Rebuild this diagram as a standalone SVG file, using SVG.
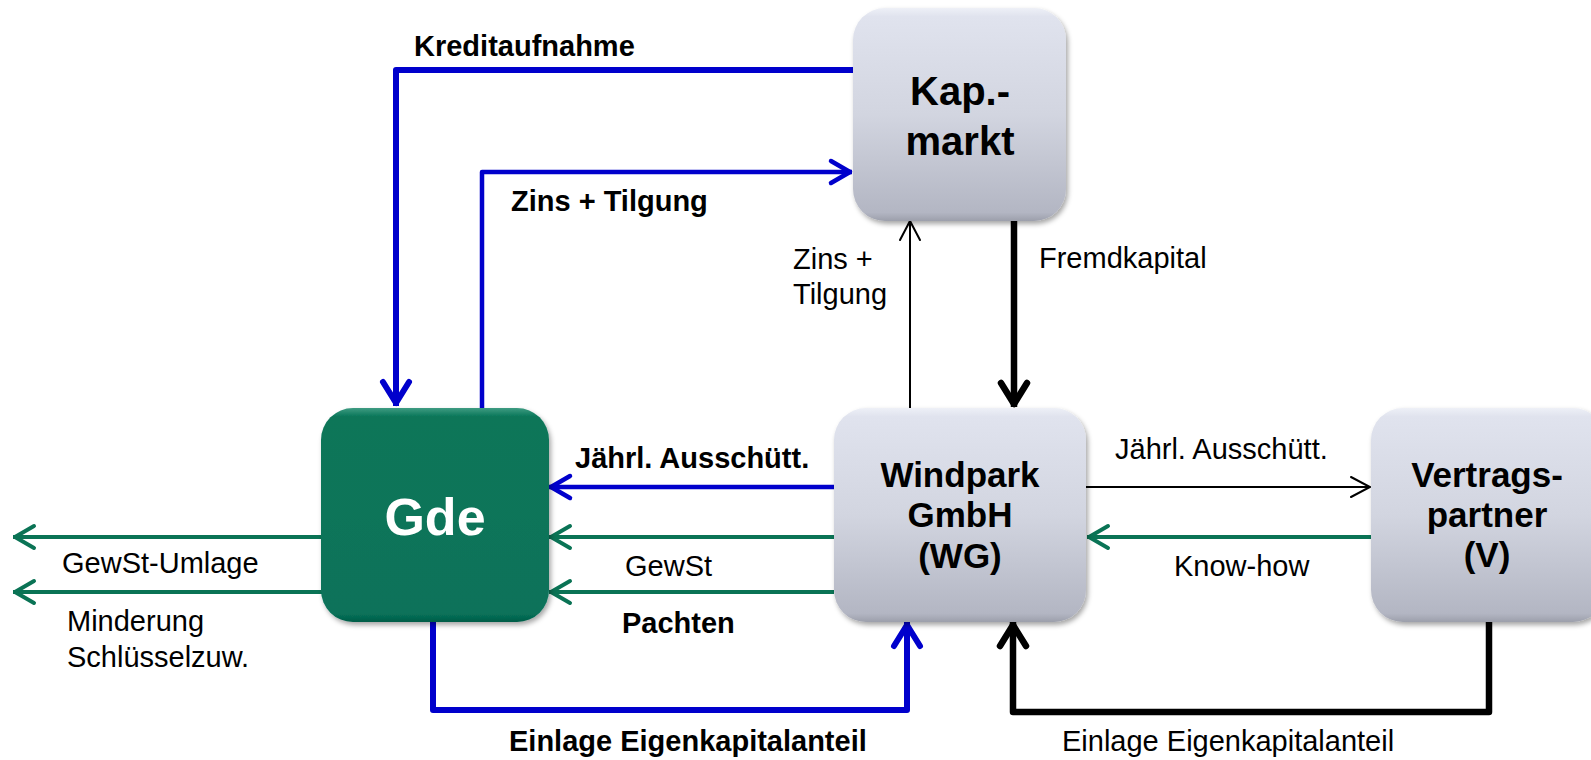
<svg xmlns="http://www.w3.org/2000/svg" width="1591" height="760" viewBox="0 0 1591 760">
<style>
.lbl{font-family:"Liberation Sans",Arial,Helvetica,sans-serif;font-size:29px;fill:#000}
.b{font-weight:bold}
.node{font-family:"Liberation Sans",Arial,Helvetica,sans-serif;font-weight:bold;fill:#000;text-anchor:middle}
.blue{stroke:#0000CC;fill:none;stroke-linejoin:round}
.green{stroke:#0A7355;fill:none;stroke-width:4}
.blk{stroke:#000;fill:none;stroke-linejoin:round}
</style>
<defs>
<linearGradient id="gray" x1="0" y1="0" x2="0" y2="1">
<stop offset="0" stop-color="#EEF0F7"/>
<stop offset="0.04" stop-color="#E0E3EE"/>
<stop offset="0.5" stop-color="#D2D5E0"/>
<stop offset="0.96" stop-color="#B3B6C3"/>
<stop offset="1" stop-color="#9C9FAB"/>
</linearGradient>
<linearGradient id="grn" x1="0" y1="0" x2="0" y2="1">
<stop offset="0" stop-color="#3E9C82"/>
<stop offset="0.04" stop-color="#0B7659"/>
<stop offset="0.96" stop-color="#07725A"/>
<stop offset="1" stop-color="#055C47"/>
</linearGradient>
<filter id="sh" x="-10%" y="-10%" width="125%" height="125%">
<feDropShadow dx="2" dy="3" stdDeviation="2.5" flood-color="#000" flood-opacity="0.35"/>
</filter>
<marker id="mBlueL" markerUnits="userSpaceOnUse" viewBox="-40 -20 44 40" markerWidth="44" markerHeight="40" refX="0" refY="0" orient="auto">
<path d="M-24,-13 L-3,0 L-24,13" fill="none" stroke="#0000CC" stroke-width="6" stroke-linecap="round" stroke-linejoin="round"/>
</marker>
<marker id="mBlue" markerUnits="userSpaceOnUse" viewBox="-40 -20 44 40" markerWidth="44" markerHeight="40" refX="0" refY="0" orient="auto">
<path d="M-21,-11 L-2,0 L-21,11" fill="none" stroke="#0000CC" stroke-width="4.5" stroke-linecap="round" stroke-linejoin="round"/>
</marker>
<marker id="mGreen" markerUnits="userSpaceOnUse" viewBox="-40 -20 44 40" markerWidth="44" markerHeight="40" refX="0" refY="0" orient="auto">
<path d="M-21,-11 L-2,0 L-21,11" fill="none" stroke="#0A7355" stroke-width="4" stroke-linecap="round" stroke-linejoin="round"/>
</marker>
<marker id="mBlk" markerUnits="userSpaceOnUse" viewBox="-40 -20 44 40" markerWidth="44" markerHeight="40" refX="0" refY="0" orient="auto">
<path d="M-19,-10 L0,0 L-19,10" fill="none" stroke="#000" stroke-width="2" stroke-linecap="round"/>
</marker>
<marker id="mBlkL" markerUnits="userSpaceOnUse" viewBox="-40 -20 44 40" markerWidth="44" markerHeight="40" refX="0" refY="0" orient="auto">
<path d="M-24,-13 L-3,0 L-24,13" fill="none" stroke="#000" stroke-width="6.5" stroke-linecap="round" stroke-linejoin="round"/>
</marker>
</defs>
<rect width="1591" height="760" fill="#fff"/>

<g id="connectors">
<!-- Kreditaufnahme -->
<path class="blue" stroke-width="6" d="M853,70 H396 V406" marker-end="url(#mBlueL)"/>
<!-- Zins + Tilgung (blue) -->
<path class="blue" stroke-width="4.5" d="M482,408 V172 H852" marker-end="url(#mBlue)"/>
<!-- Zins + Tilgung (thin black) -->
<path class="blk" stroke-width="2" d="M910,408 V221" marker-end="url(#mBlk)"/>
<!-- Fremdkapital -->
<path class="blk" stroke-width="6.5" d="M1014,221 V407" marker-end="url(#mBlkL)"/>
<!-- Jaehrl. Ausschuett. to Gde -->
<path class="blue" stroke-width="4.5" d="M834,487 H549" marker-end="url(#mBlue)"/>
<!-- GewSt -->
<path class="green" d="M834,537 H549" marker-end="url(#mGreen)"/>
<!-- Pachten -->
<path class="green" d="M834,592 H549" marker-end="url(#mGreen)"/>
<!-- GewSt-Umlage -->
<path class="green" d="M322,537 H13" marker-end="url(#mGreen)"/>
<!-- Minderung Schluesselzuw. -->
<path class="green" d="M322,592 H13" marker-end="url(#mGreen)"/>
<!-- Einlage Gde -->
<path class="blue" stroke-width="6" d="M433,621 V710 H907 V622" marker-end="url(#mBlueL)"/>
<!-- Einlage V -->
<path class="blk" stroke-width="6.5" d="M1489,621 V712 H1013 V622" marker-end="url(#mBlkL)"/>
<!-- Jaehrl. Ausschuett. to V -->
<path class="blk" stroke-width="2" d="M1086,487 H1370" marker-end="url(#mBlk)"/>
<!-- Know-how -->
<path class="green" d="M1371,537 H1087" marker-end="url(#mGreen)"/>
</g>

<g id="labels">
<text class="lbl b" x="414" y="56">Kreditaufnahme</text>
<text class="lbl b" x="511" y="211">Zins + Tilgung</text>
<text class="lbl" x="793" y="269">Zins +</text>
<text class="lbl" x="793" y="304">Tilgung</text>
<text class="lbl" x="1039" y="268">Fremdkapital</text>
<text class="lbl b" x="575" y="468">Jährl. Ausschütt.</text>
<text class="lbl" x="625" y="576">GewSt</text>
<text class="lbl b" x="622" y="633">Pachten</text>
<text class="lbl" x="62" y="573">GewSt-Umlage</text>
<text class="lbl" x="67" y="631">Minderung</text>
<text class="lbl" x="67" y="667">Schlüsselzuw.</text>
<text class="lbl" x="1115" y="459">Jährl. Ausschütt.</text>
<text class="lbl" x="1174" y="576">Know-how</text>
<text class="lbl b" x="509" y="751">Einlage Eigenkapitalanteil</text>
<text class="lbl" x="1062" y="751">Einlage Eigenkapitalanteil</text>
</g>

<g id="kap">
<rect x="853" y="8" width="213" height="213" rx="32" fill="url(#gray)" filter="url(#sh)"/>
<text class="node" x="960" y="105" font-size="40">Kap.-</text>
<text class="node" x="960" y="155" font-size="40">markt</text>
</g>

<g id="gde">
<rect x="321" y="408" width="228" height="214" rx="32" fill="url(#grn)" filter="url(#sh)"/>
<text class="node" x="435" y="535" font-size="52" fill="#fff" style="fill:#fff">Gde</text>
</g>

<g id="wg">
<rect x="834" y="408" width="252" height="214" rx="32" fill="url(#gray)" filter="url(#sh)"/>
<text class="node" x="960" y="487" font-size="35">Windpark</text>
<text class="node" x="960" y="527" font-size="35">GmbH</text>
<text class="node" x="960" y="568" font-size="35">(WG)</text>
</g>

<g id="v">
<rect x="1371" y="408" width="234" height="214" rx="32" fill="url(#gray)" filter="url(#sh)"/>
<text class="node" x="1487" y="487" font-size="35">Vertrags-</text>
<text class="node" x="1487" y="527" font-size="35">partner</text>
<text class="node" x="1487" y="567" font-size="35">(V)</text>
</g>
</svg>
